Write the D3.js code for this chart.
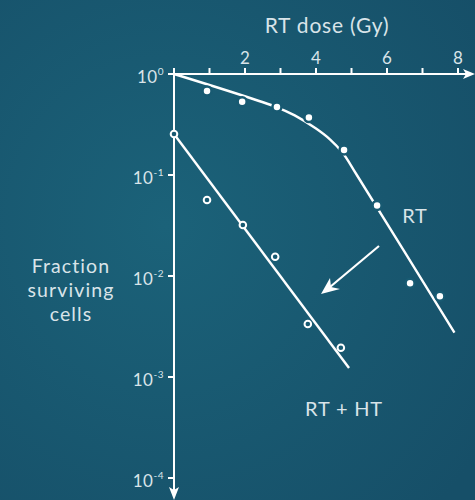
<!DOCTYPE html>
<html>
<head>
<meta charset="utf-8">
<script src="https://cdn.jsdelivr.net/npm/d3@7"></script>
<style>
  body { margin: 0; background: #185a72; }
  text { font-family: Lato, "Open Sans", sans-serif; fill: #d9e4e9; }
</style>
</head>
<body>
<div id="chart"></div>
<script>
let width = 475;
let height = 500;

// measured points
const doseRT = [0.93, 1.92, 2.9, 3.8, 4.79, 5.72, 6.65, 7.49];
const survRT = [0.68, 0.53, 0.47, 0.37, 0.177, 0.050, 0.0085, 0.0063];
const doseHT = [0, 0.93, 1.94, 2.85, 3.77, 4.7];
const survHT = [0.255, 0.0565, 0.032, 0.0155, 0.00335, 0.00195];

// fitted curves
const fitDoseRT = [0, 2.9, 3.4, 4.0, 4.4, 4.75, 5.15, 7.9];
const fitSurvRT = [1, 0.468, 0.389, 0.288, 0.224, 0.166, 0.1, 0.00275];
const fitDoseHT = [0, 4.93];
const fitSurvHT = [0.255, 0.00123];

const xTicks = [0, 1, 2, 3, 4, 5, 6, 7, 8];
const xLabels = [2, 4, 6, 8];
const yTicks = [0, -1, -2, -3, -4];

const bg = "#185a72";

let svg = d3.select("#chart")
            .append("svg")
            .attr("width", width)
            .attr("height", height);

let defs = svg.append("defs");
let grad = defs.append("radialGradient").attr("id", "bg")
  .attr("cx", "0.35").attr("cy", "0.45").attr("r", "0.8");
grad.append("stop").attr("offset", "0%").attr("stop-color", "#1b6279");
grad.append("stop").attr("offset", "100%").attr("stop-color", "#164f68");
svg.append("rect").attr("width", width).attr("height", height).attr("fill", "url(#bg)");

let x = d3.scaleLinear().domain([0, 8]).range([174, 458]);
let y = d3.scaleLog().domain([1, 1e-4]).range([74, 478]);

// axes
let ax = svg.append("g").attr("stroke", "#fff").attr("stroke-width", 2);
ax.append("line").attr("x1", x(0) - 5).attr("x2", 466).attr("y1", y(1)).attr("y2", y(1));
ax.append("line").attr("x1", x(0)).attr("x2", x(0)).attr("y1", y(1) - 6).attr("y2", 490);
svg.append("path").attr("fill", "#fff")
  .attr("d", `M475,${y(1)} L463,${y(1) - 5} L466,${y(1)} L463,${y(1) + 5} Z`);
svg.append("path").attr("fill", "#fff")
  .attr("d", `M${x(0)},500 L${x(0) - 5},487 L${x(0)},490 L${x(0) + 5},487 Z`);

ax.selectAll(".xt").data(xTicks).enter().append("line")
  .attr("x1", d => x(d)).attr("x2", d => x(d))
  .attr("y1", y(1) - 6).attr("y2", y(1));
ax.selectAll(".yt").data(yTicks).enter().append("line")
  .attr("x1", x(0) - 6).attr("x2", x(0))
  .attr("y1", d => y(Math.pow(10, d))).attr("y2", d => y(Math.pow(10, d)));

svg.selectAll(".xl").data(xLabels).enter().append("text")
  .attr("x", d => x(d)).attr("y", 64)
  .attr("text-anchor", "middle").attr("font-size", 17)
  .text(d => d);

let yl = svg.selectAll(".yl").data(yTicks).enter().append("text")
  .attr("x", 164).attr("y", d => y(Math.pow(10, d)) + 9)
  .attr("text-anchor", "end").attr("font-size", 17).attr("letter-spacing", 0.5);
yl.append("tspan").text("10");
yl.append("tspan").attr("dy", -8).attr("font-size", 10)
  .text(d => d === 0 ? "0" : "-" + Math.abs(d));

svg.append("text").attr("x", 327).attr("y", 33)
  .attr("text-anchor", "middle").attr("font-size", 21).attr("letter-spacing", 0.8)
  .text("RT dose (Gy)");

["Fraction", "surviving", "cells"].forEach((t, i) => {
  svg.append("text").attr("x", 71).attr("y", 273 + i * 24)
    .attr("text-anchor", "middle").attr("font-size", 19.5).attr("letter-spacing", 1.1)
    .text(t);
});

svg.append("text").attr("x", 415).attr("y", 223)
  .attr("text-anchor", "middle").attr("font-size", 20).attr("letter-spacing", 0.8).text("RT");
svg.append("text").attr("x", 344).attr("y", 416)
  .attr("text-anchor", "middle").attr("font-size", 20).attr("letter-spacing", 0.8).text("RT + HT");

// fit lines
svg.append("path")
  .attr("d", d3.line().curve(d3.curveCatmullRom)
    .x(d => x(d[0])).y(d => y(d[1]))(d3.zip(fitDoseRT, fitSurvRT)))
  .attr("fill", "none").attr("stroke", "#fff").attr("stroke-width", 2.4);
svg.append("path")
  .attr("d", d3.line().x(d => x(d[0])).y(d => y(d[1]))(d3.zip(fitDoseHT, fitSurvHT)))
  .attr("fill", "none").attr("stroke", "#fff").attr("stroke-width", 2.4);

// arrow between curves
svg.append("line").attr("x1", 379).attr("y1", 246).attr("x2", 330).attr("y2", 287)
  .attr("stroke", "#fff").attr("stroke-width", 2.2);
svg.append("path").attr("fill", "#fff")
  .attr("d", "M321,294 L330,278 L331,287 L340,289 Z");

// points
svg.selectAll(".rt").data(d3.zip(doseRT, survRT)).enter().append("circle")
  .attr("cx", d => x(d[0])).attr("cy", d => y(d[1])).attr("r", 4.5)
  .attr("fill", "#fff").attr("stroke", bg).attr("stroke-width", 2.5);
svg.selectAll(".ht").data(d3.zip(doseHT, survHT)).enter().append("circle")
  .attr("cx", d => x(d[0])).attr("cy", d => y(d[1])).attr("r", 3.3)
  .attr("fill", bg).attr("stroke", "#fff").attr("stroke-width", 2);
</script>
</body>
</html>
